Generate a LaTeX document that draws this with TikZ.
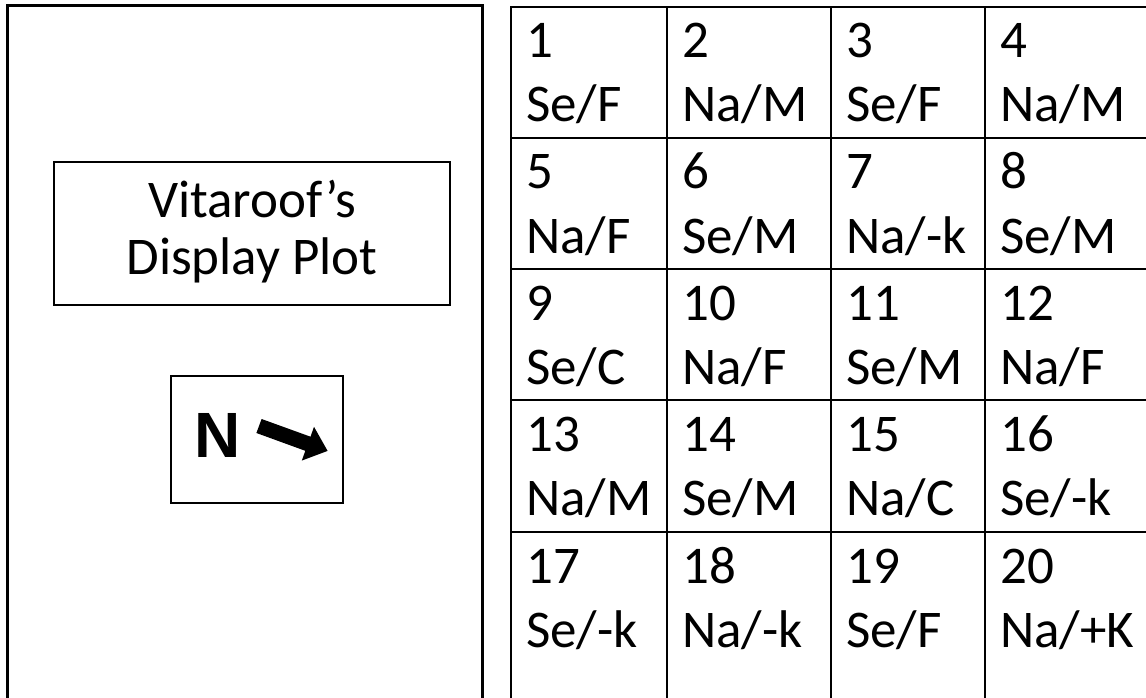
\documentclass[tikz,border=0pt]{standalone}
\usepackage{fontspec}
\setmainfont{Carlito}
\newfontfamily\arialfont{Liberation Sans}
\begin{document}
\begin{tikzpicture}[x=1pt,y=-1pt,
  panel/.style={line width=3pt},
  gridline/.style={line width=2pt},
  innerbox/.style={line width=1.8pt},
  celltxt/.style={anchor=base west,inner sep=0pt,font=\fontsize{53}{64}\selectfont},
  titletxt/.style={anchor=base,inner sep=0pt,font=\fontsize{53}{64}\selectfont}]
\useasboundingbox[fill=white] (0,0) rectangle (1146,698);
% left panel (open at the bottom)
\draw[panel] (7,698) -- (7,6) -- (482,6) -- (482,698);
% title box
\draw[innerbox] (54,162) rectangle (450,305);
\node[titletxt] (t1) at (252,217) {Vitaroof’s};
\node[titletxt] (t2) at (252,274) {Display Plot};
% north box
\draw[innerbox] (171,376) rectangle (343,503);
\node[anchor=base west,inner sep=0pt,font=\arialfont\bfseries\fontsize{64}{70}\selectfont] (north) at (194,457) {N};
\fill (261.6,419) -- (310.5,436.7) -- (314.0,426.8) -- (327.6,450.9) -- (301.8,460.6) -- (305.3,450.8) -- (256.4,433) -- cycle;
% grid
\draw[gridline] (511,698) -- (511,7) -- (1148,7);
\foreach \x in {667,831,985} \draw[gridline] (\x,7) -- (\x,698);
\foreach \y in {138,269,400,532} \draw[gridline] (511,\y) -- (1148,\y);
% cell texts
\def\colx{{526,682,846,1000}}
\def\rowy{{7,138,269,400,532}}
\foreach \n/\lab [count=\i from 0] in {1/Se\slash F,2/Na\slash M,3/Se\slash F,4/Na\slash M,
  5/Na\slash F,6/Se\slash M,7/Na\slash -k,8/Se\slash M,
  9/Se\slash C,10/Na\slash F,11/Se\slash M,12/Na\slash F,
  13/Na\slash M,14/Se\slash M,15/Na\slash C,16/Se\slash -k,
  17/Se\slash -k,18/Na\slash -k,19/Se\slash F,20/Na\slash +K}{
  \pgfmathtruncatemacro\c{mod(\i,4)}
  \pgfmathtruncatemacro\r{int(\i/4)}
  \pgfmathsetmacro\cx{\colx[\c]}
  \pgfmathsetmacro\ry{\rowy[\r]}
  \node[celltxt] (num\n) at (\cx,\ry+51) {\n};
  \node[celltxt] (lab\n) at (\cx,\ry+115) {\lab};
}
\end{tikzpicture}
\end{document}
